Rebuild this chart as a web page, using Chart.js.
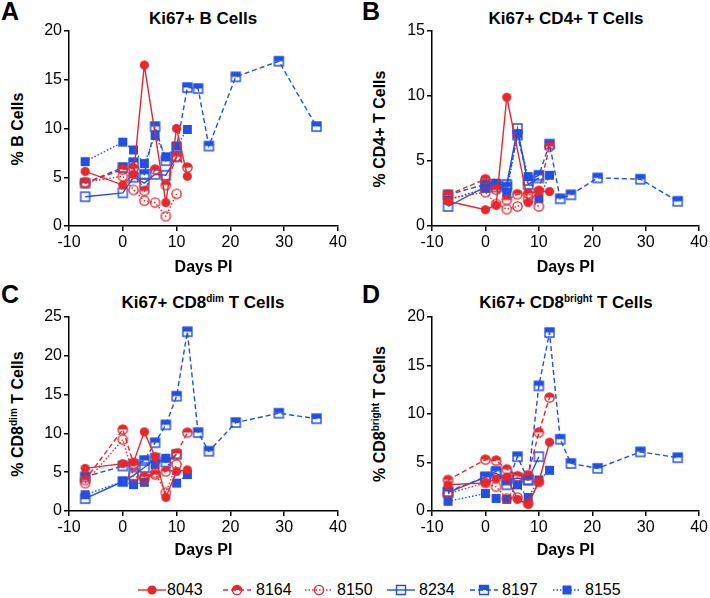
<!DOCTYPE html>
<html>
<head>
<meta charset="utf-8">
<script src="https://cdn.jsdelivr.net/npm/chart.js@4.4.1/dist/chart.umd.min.js"></script>
<style>
body{margin:0;width:710px;height:598px;background:#fff;position:relative;overflow:hidden;font-family:"Liberation Sans",Arial,sans-serif;color:#000}
canvas.cv{position:absolute}
.title{position:absolute;font-weight:bold;font-size:17px;white-space:nowrap;transform:translateX(-50%)}
.ytitle{position:absolute;font-weight:bold;font-size:16px;white-space:nowrap;transform:translate(-50%,-50%) rotate(-90deg)}
.letter{position:absolute;font-weight:bold;font-size:25px}
sup{font-size:10px;vertical-align:6px;line-height:0}
.leg{position:absolute;top:581px;font-size:16px}
canvas.lm{position:absolute;top:583px}
</style>
</head>
<body>
<div class="letter" style="left:1px;top:-3px">A</div>
<div class="letter" style="left:362px;top:-3px">B</div>
<div class="letter" style="left:1px;top:280px">C</div>
<div class="letter" style="left:362px;top:280px">D</div>

<div class="title" style="left:203px;top:9px">Ki67+ B Cells</div>
<div class="title" style="left:566px;top:9px">Ki67+ CD4+ T Cells</div>
<div class="title" style="left:203px;top:293px">Ki67+ CD8<sup>dim</sup> T Cells</div>
<div class="title" style="left:566px;top:293px">Ki67+ CD8<sup>bright</sup> T Cells</div>

<div class="ytitle" style="left:18px;top:129px">% B Cells</div>
<div class="ytitle" style="left:380px;top:129px">% CD4+ T Cells</div>
<div class="ytitle" style="left:18px;top:414px">% CD8<sup>dim</sup> T Cells</div>
<div class="ytitle" style="left:380px;top:414px">% CD8<sup>bright</sup> T Cells</div>

<canvas class="cv" id="chartA" style="left:0;top:0"></canvas>
<canvas class="cv" id="chartB" style="left:355px;top:0"></canvas>
<canvas class="cv" id="chartC" style="left:0;top:270px"></canvas>
<canvas class="cv" id="chartD" style="left:355px;top:270px"></canvas>

<script>
// sampling days (days post infection)
const days = [-7, 0, 2, 4, 6, 8, 10, 12]
const days8197 = [-7, 0, 2, 4, 6, 8, 10, 12, 14, 16, 21, 29, 36]
const animals = ['8043', '8164', '8150', '8234', '8197', '8155']
const xTicks = [-10, 0, 10, 20, 30, 40]

// A: Ki67+ B cells (%)
const bCells8043 = [5.6, 4.2, 5.3, 16.5, null, 2.4, 10.0, 5.1]
const bCells8164 = [4.4, 5.8, 5.9, 3.6, 5.8, 4.2, 7.1, 6.0]
const bCells8150 = [4.5, 5.1, 3.7, 2.6, 2.4, 1.0, 3.3, null]
const bCells8234 = [3.0, 3.4, 5.0, 4.4, 5.3, 5.2, 7.1, null]
const bCells8197 = [4.4, 6.0, 6.5, 5.3, 10.2, 6.7, 8.1, 14.2, 14.1, 8.2, 15.3, 16.9, 10.2]
const bCells8155 = [6.6, 8.6, 7.8, 6.4, 9.3, 7.1, 8.2, 9.9]

// B: Ki67+ CD4+ T cells (%)
const cd4_8043 = [1.9, 1.25, 1.6, 9.9, null, 1.8, 2.7, 2.65]
const cd4_8164 = [2.4, 3.6, 2.8, 2.0, 2.45, 2.5, 2.7, 6.1]
const cd4_8150 = [2.1, 2.6, 1.7, 1.3, 1.5, 2.1, 1.5, null]
const cd4_8234 = [1.5, 3.0, 3.2, 3.2, 7.5, 3.2, 3.7, null]
const cd4_8197 = [2.4, 3.2, 3.0, 3.0, 7.0, 3.5, 3.9, 6.3, 2.1, 2.4, 3.7, 3.6, 1.9]
const cd4_8155 = [2.0, 2.9, 3.3, 2.6, 7.1, 3.8, 2.1, 3.9]

// C: Ki67+ CD8dim T cells (%)
const cd8dim8043 = [5.5, 6.1, 6.3, 10.2, 7.0, 1.75, 5.1, 5.3]
const cd8dim8164 = [4.0, 10.5, 6.1, 4.4, 4.7, 5.1, 7.4, 10.1]
const cd8dim8150 = [3.6, 9.2, 4.5, 4.1, 4.9, 2.4, 6.0, null]
const cd8dim8234 = [1.6, 3.8, 4.6, 5.6, 6.8, 6.3, 7.3, null]
const cd8dim8197 = [4.4, 5.8, 6.0, 6.5, 8.8, 11.1, 14.8, 23.1, 10.1, 7.7, 11.4, 12.6, 11.9]
const cd8dim8155 = [2.1, 3.8, 3.4, 3.7, 6.0, 6.8, 3.6, 4.7]

// D: Ki67+ CD8bright T cells (%)
const cd8br8043 = [2.7, 2.9, 3.3, 3.5, 1.2, 0.7, 3.0, 7.1]
const cd8br8164 = [3.2, 5.3, 5.2, 4.3, 3.6, 3.7, 8.1, 11.7]
const cd8br8150 = [1.8, 2.9, 2.5, 1.3, 1.4, 0.8, 3.0, null]
const cd8br8234 = [1.9, 3.5, 3.9, 3.2, 3.4, 3.2, 5.6, null]
const cd8br8197 = [2.0, 3.5, 4.1, 2.7, 5.6, 3.2, 12.9, 18.4, 7.4, 4.9, 4.4, 6.1, 5.5]
const cd8br8155 = [1.0, 1.8, 1.3, 1.2, 2.7, 1.4, 3.2, 4.2]

const RED = '#e8262b'
const BLUE = '#2250e2'
const styles = {
    '8043': {color: RED, dash: [], marker: 'circle'},
    '8164': {color: RED, dash: [5, 3], marker: 'halfCircle'},
    '8150': {color: RED, dash: [1.5, 2], marker: 'openCircle'},
    '8234': {color: BLUE, dash: [], marker: 'openSquare'},
    '8197': {color: BLUE, dash: [5, 3], marker: 'halfSquare'},
    '8155': {color: BLUE, dash: [1.5, 2], marker: 'square'}
}

function drawMarker(g, kind, color, cx, cy) {
    g.save()
    g.strokeStyle = color
    g.fillStyle = color
    g.lineWidth = 1.4
    g.setLineDash([])
    const round = kind.toLowerCase().includes('circle')
    const shape = () => {
        g.beginPath()
        if (round) g.arc(cx, cy, 4.6, 0, Math.PI * 2)
        else g.rect(cx - 4.5, cy - 4.5, 9, 9)
    }
    if (kind === 'circle' || kind === 'square') {
        shape(); g.fill()
    } else if (kind.startsWith('half')) {
        g.save()
        g.beginPath(); g.rect(cx - 7, cy - 7, 14, 7); g.clip()
        shape(); g.fill()
        g.restore()
        shape(); g.stroke()
    } else {
        shape(); g.stroke()
    }
    g.restore()
}

function markerImage(kind, color) {
    const c = document.createElement('canvas')
    c.width = 13; c.height = 13
    drawMarker(c.getContext('2d'), kind, color, 6.5, 6.5)
    return c
}

function makeDatasets(seriesList) {
    return seriesList.map(([name, xs, ys]) => {
        const st = styles[name]
        const img = markerImage(st.marker, st.color)
        return {
            label: name,
            data: xs.map((x, i) => ({x: x, y: ys[i]})).filter(p => p.y !== null),
            borderColor: st.color,
            backgroundColor: st.color,
            borderWidth: 1.4,
            borderDash: st.dash,
            pointStyle: img,
            pointRadius: 5,
            tension: 0
        }
    })
}

function panel(id, w, h, pad, yW, xH, yMax, seriesList) {
    const cv = document.getElementById(id)
    cv.width = w; cv.height = h
    cv.style.width = w + 'px'; cv.style.height = h + 'px'
    new Chart(cv, {
        type: 'line',
        data: {datasets: makeDatasets(seriesList)},
        options: {
            responsive: false,
            animation: false,
            events: [],
            layout: {padding: pad},
            plugins: {legend: {display: false}, tooltip: {enabled: false}},
            scales: {
                x: {
                    type: 'linear', min: -10, max: 40,
                    afterBuildTicks: s => { s.ticks = xTicks.map(v => ({value: v})) },
                    afterFit: s => { s.height = xH },
                    border: {color: '#000', width: 1.5},
                    grid: {drawOnChartArea: false, color: '#000', lineWidth: 1.5, tickLength: 5},
                    ticks: {color: '#000', padding: 2, font: {family: 'Liberation Sans', size: 16}, maxRotation: 0},
                    title: {display: true, text: 'Days PI', color: '#000', padding: {top: 0, bottom: 2},
                        font: {family: 'Liberation Sans', size: 16, weight: 'bold'}}
                },
                y: {
                    min: 0, max: yMax,
                    afterFit: s => { s.width = yW },
                    border: {color: '#000', width: 1.5},
                    grid: {drawOnChartArea: false, color: '#000', lineWidth: 1.5, tickLength: 5},
                    ticks: {stepSize: 5, color: '#000', padding: 2, font: {family: 'Liberation Sans', size: 16}}
                }
            }
        }
    })
}

panel('chartA', 352, 279, {top: 31, right: 14}, 69, 53, 20, [
    ['8043', days, bCells8043], ['8164', days, bCells8164], ['8150', days, bCells8150],
    ['8234', days, bCells8234], ['8197', days8197, bCells8197], ['8155', days, bCells8155]])
panel('chartB', 355, 279, {top: 31, right: 9}, 77, 53, 15, [
    ['8043', days, cd4_8043], ['8164', days, cd4_8164], ['8150', days, cd4_8150],
    ['8234', days, cd4_8234], ['8197', days8197, cd4_8197], ['8155', days, cd4_8155]])
panel('chartC', 352, 292, {top: 47, right: 14}, 69, 51, 25, [
    ['8043', days, cd8dim8043], ['8164', days, cd8dim8164], ['8150', days, cd8dim8150],
    ['8234', days, cd8dim8234], ['8197', days8197, cd8dim8197], ['8155', days, cd8dim8155]])
panel('chartD', 355, 292, {top: 47, right: 9}, 77, 51, 20, [
    ['8043', days, cd8br8043], ['8164', days, cd8br8164], ['8150', days, cd8br8150],
    ['8234', days, cd8br8234], ['8197', days8197, cd8br8197], ['8155', days, cd8br8155]])

// legend row along the bottom
const legLine = [138, 223, 305, 387, 470, 553]
const legText = [167, 256, 337, 419, 502, 585]
animals.forEach((name, i) => {
    const st = styles[name]
    const c = document.createElement('canvas')
    c.className = 'lm'
    c.width = 28; c.height = 14
    c.style.left = legLine[i] + 'px'
    const g = c.getContext('2d')
    g.strokeStyle = st.color
    g.lineWidth = 1.4
    g.setLineDash(st.dash)
    g.beginPath(); g.moveTo(0, 7); g.lineTo(28, 7); g.stroke()
    drawMarker(g, st.marker, st.color, 14, 7)
    document.body.appendChild(c)
    const t = document.createElement('div')
    t.className = 'leg'
    t.style.left = legText[i] + 'px'
    t.textContent = name
    document.body.appendChild(t)
})
</script>
</body>
</html>
